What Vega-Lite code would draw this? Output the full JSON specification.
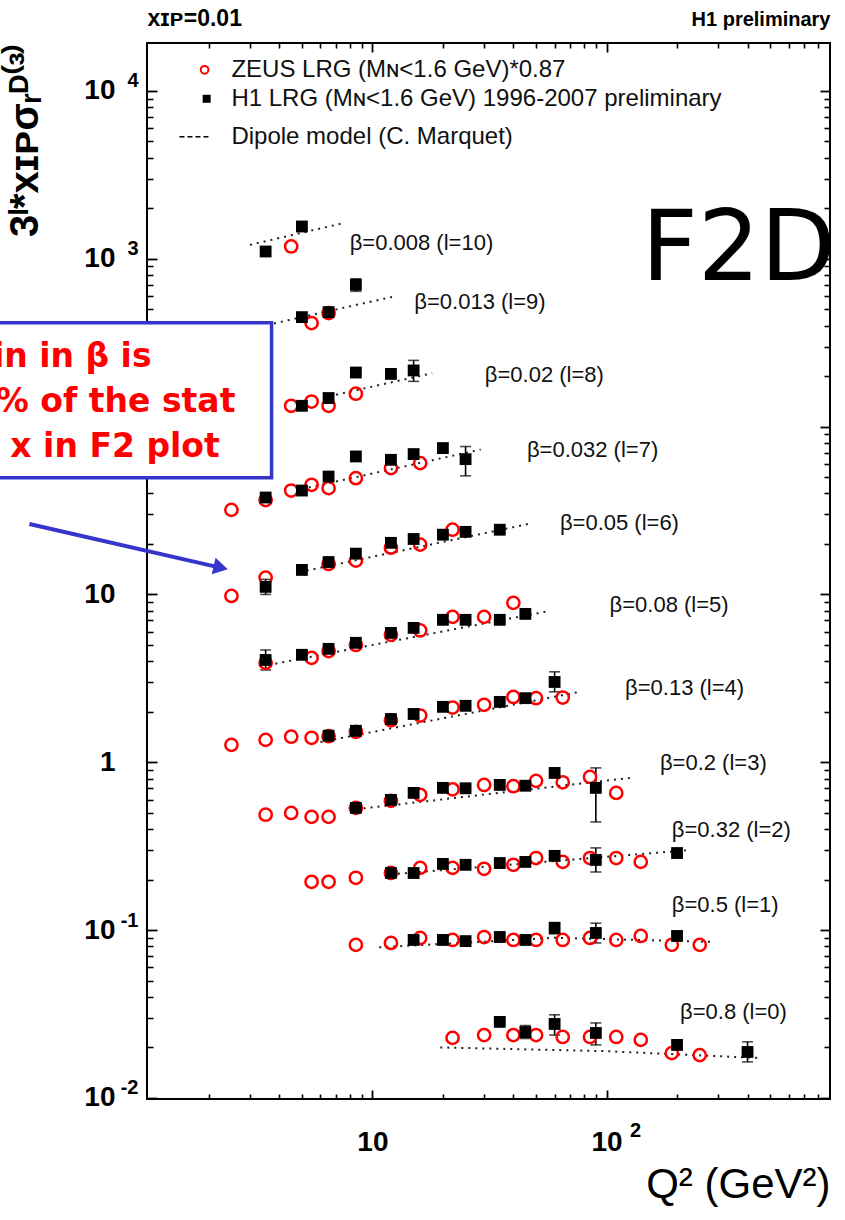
{
 "$schema": "https://vega.github.io/schema/vega-lite/v6.json",
 "width": 683,
 "height": 1056,
 "autosize": {"type": "none"},
 "padding": {"left": 147, "top": 43, "right": 15, "bottom": 121},
 "background": "white",
 "config": {
  "view": {"stroke": "#000", "strokeWidth": 2},
  "font": "Liberation Sans",
  "axis": {"grid": false, "domain": false, "tickColor": "#000", "labelColor": "#000", "titleColor": "#000", "labelFont": "Liberation Sans", "titleFont": "Liberation Sans", "labelFlush": false, "labelOverlap": false, "labelBound": false}
 },
 "datasets": {
  "zeus": [
   {"b":"0.008","q2":4.5,"v":1184},
   {"b":"0.013","q2":5.5,"v":414},{"b":"0.013","q2":6.5,"v":475},
   {"b":"0.02","q2":4.5,"v":133},{"b":"0.02","q2":5.5,"v":141},{"b":"0.02","q2":6.5,"v":133},{"b":"0.02","q2":8.5,"v":157},
   {"b":"0.032","q2":2.5,"v":31.9},{"b":"0.032","q2":3.5,"v":36.5},{"b":"0.032","q2":4.5,"v":41.6},{"b":"0.032","q2":5.5,"v":45.0},{"b":"0.032","q2":6.5,"v":43.0},{"b":"0.032","q2":8.5,"v":49.3},{"b":"0.032","q2":12,"v":56.6},{"b":"0.032","q2":16,"v":60.6},
   {"b":"0.05","q2":2.5,"v":9.8},{"b":"0.05","q2":3.5,"v":12.6},{"b":"0.05","q2":6.5,"v":15.2},{"b":"0.05","q2":8.5,"v":15.9},{"b":"0.05","q2":12,"v":19.0},{"b":"0.05","q2":16,"v":19.8},{"b":"0.05","q2":22,"v":24.3},
   {"b":"0.08","q2":3.5,"v":3.91},{"b":"0.08","q2":5.5,"v":4.19},{"b":"0.08","q2":6.5,"v":4.6},{"b":"0.08","q2":8.5,"v":5.0},{"b":"0.08","q2":12,"v":5.75},{"b":"0.08","q2":16,"v":6.1},{"b":"0.08","q2":22,"v":7.35},{"b":"0.08","q2":30,"v":7.35},{"b":"0.08","q2":40,"v":8.91},
   {"b":"0.13","q2":2.5,"v":1.27},{"b":"0.13","q2":3.5,"v":1.36},{"b":"0.13","q2":4.5,"v":1.42},{"b":"0.13","q2":5.5,"v":1.40},{"b":"0.13","q2":6.5,"v":1.43},{"b":"0.13","q2":8.5,"v":1.52},{"b":"0.13","q2":12,"v":1.78},{"b":"0.13","q2":16,"v":1.90},{"b":"0.13","q2":22,"v":2.12},{"b":"0.13","q2":30,"v":2.20},{"b":"0.13","q2":40,"v":2.45},{"b":"0.13","q2":50,"v":2.41},{"b":"0.13","q2":65,"v":2.43},
   {"b":"0.2","q2":3.5,"v":0.487},{"b":"0.2","q2":4.5,"v":0.499},{"b":"0.2","q2":5.5,"v":0.473},{"b":"0.2","q2":6.5,"v":0.473},{"b":"0.2","q2":8.5,"v":0.535},{"b":"0.2","q2":12,"v":0.59},{"b":"0.2","q2":16,"v":0.64},{"b":"0.2","q2":22,"v":0.69},{"b":"0.2","q2":30,"v":0.733},{"b":"0.2","q2":40,"v":0.72},{"b":"0.2","q2":50,"v":0.775},{"b":"0.2","q2":65,"v":0.76},{"b":"0.2","q2":85,"v":0.818},{"b":"0.2","q2":110,"v":0.657},
   {"b":"0.32","q2":5.5,"v":0.194},{"b":"0.32","q2":6.5,"v":0.194},{"b":"0.32","q2":8.5,"v":0.205},{"b":"0.32","q2":12,"v":0.219},{"b":"0.32","q2":16,"v":0.235},{"b":"0.32","q2":22,"v":0.235},{"b":"0.32","q2":30,"v":0.232},{"b":"0.32","q2":40,"v":0.245},{"b":"0.32","q2":50,"v":0.269},{"b":"0.32","q2":65,"v":0.255},{"b":"0.32","q2":85,"v":0.269},{"b":"0.32","q2":110,"v":0.269},{"b":"0.32","q2":140,"v":0.255},
   {"b":"0.5","q2":8.5,"v":0.0817},{"b":"0.5","q2":12,"v":0.0839},{"b":"0.5","q2":16,"v":0.0898},{"b":"0.5","q2":22,"v":0.0874},{"b":"0.5","q2":30,"v":0.091},{"b":"0.5","q2":40,"v":0.0874},{"b":"0.5","q2":50,"v":0.0874},{"b":"0.5","q2":65,"v":0.0874},{"b":"0.5","q2":85,"v":0.0898},{"b":"0.5","q2":110,"v":0.0874},{"b":"0.5","q2":140,"v":0.0923},{"b":"0.5","q2":190,"v":0.0817},{"b":"0.5","q2":250,"v":0.0817},
   {"b":"0.8","q2":22,"v":0.0228},{"b":"0.8","q2":30,"v":0.0237},{"b":"0.8","q2":40,"v":0.0237},{"b":"0.8","q2":50,"v":0.0237},{"b":"0.8","q2":65,"v":0.0231},{"b":"0.8","q2":85,"v":0.0231},{"b":"0.8","q2":110,"v":0.0231},{"b":"0.8","q2":140,"v":0.0222},{"b":"0.8","q2":190,"v":0.0185},{"b":"0.8","q2":250,"v":0.0180}
  ],
  "h1": [
   {"b":"0.008","q2":3.5,"v":1105},{"b":"0.008","q2":5,"v":1557},
   {"b":"0.013","q2":5,"v":449},{"b":"0.013","q2":6.5,"v":481},{"b":"0.013","q2":8.5,"v":700,"lo":640,"hi":760},
   {"b":"0.02","q2":5,"v":133},{"b":"0.02","q2":6.5,"v":148},{"b":"0.02","q2":8.5,"v":210},{"b":"0.02","q2":12,"v":206},{"b":"0.02","q2":15,"v":216,"lo":186,"hi":248},
   {"b":"0.032","q2":3.5,"v":37.8},{"b":"0.032","q2":5,"v":41.6},{"b":"0.032","q2":6.5,"v":50.4},{"b":"0.032","q2":8.5,"v":66.4},{"b":"0.032","q2":12,"v":63.4},{"b":"0.032","q2":15,"v":68.6},{"b":"0.032","q2":20,"v":74.5},{"b":"0.032","q2":25,"v":64.0,"lo":50.9,"hi":76.1},
   {"b":"0.05","q2":3.5,"v":11.1,"lo":10.0,"hi":12.3},{"b":"0.05","q2":5,"v":14.0},{"b":"0.05","q2":6.5,"v":15.6},{"b":"0.05","q2":8.5,"v":17.5},{"b":"0.05","q2":12,"v":20.3},{"b":"0.05","q2":15,"v":21.4},{"b":"0.05","q2":20,"v":22.7},{"b":"0.05","q2":25,"v":23.6},{"b":"0.05","q2":35,"v":24.3},
   {"b":"0.08","q2":3.5,"v":4.07,"lo":3.55,"hi":4.67},{"b":"0.08","q2":5,"v":4.37},{"b":"0.08","q2":6.5,"v":4.74},{"b":"0.08","q2":8.5,"v":5.15},{"b":"0.08","q2":12,"v":5.90},{"b":"0.08","q2":15,"v":6.32},{"b":"0.08","q2":20,"v":7.06},{"b":"0.08","q2":25,"v":7.06},{"b":"0.08","q2":35,"v":7.06},{"b":"0.08","q2":45,"v":7.66},
   {"b":"0.13","q2":6.5,"v":1.44},{"b":"0.13","q2":8.5,"v":1.54},{"b":"0.13","q2":12,"v":1.81},{"b":"0.13","q2":15,"v":1.94},{"b":"0.13","q2":20,"v":2.14},{"b":"0.13","q2":25,"v":2.17},{"b":"0.13","q2":35,"v":2.29},{"b":"0.13","q2":45,"v":2.41},{"b":"0.13","q2":60,"v":3.01,"lo":2.63,"hi":3.46},
   {"b":"0.2","q2":8.5,"v":0.535},{"b":"0.2","q2":12,"v":0.597},{"b":"0.2","q2":15,"v":0.657},{"b":"0.2","q2":20,"v":0.704},{"b":"0.2","q2":25,"v":0.70},{"b":"0.2","q2":35,"v":0.733},{"b":"0.2","q2":45,"v":0.725},{"b":"0.2","q2":60,"v":0.864},{"b":"0.2","q2":90,"v":0.704,"lo":0.441,"hi":0.926},
   {"b":"0.32","q2":12,"v":0.219},{"b":"0.32","q2":15,"v":0.219},{"b":"0.32","q2":20,"v":0.248},{"b":"0.32","q2":25,"v":0.245},{"b":"0.32","q2":35,"v":0.251},{"b":"0.32","q2":45,"v":0.255},{"b":"0.32","q2":60,"v":0.277},{"b":"0.32","q2":90,"v":0.262,"lo":0.222,"hi":0.309},{"b":"0.32","q2":200,"v":0.288},
   {"b":"0.5","q2":15,"v":0.0874},{"b":"0.5","q2":20,"v":0.0874},{"b":"0.5","q2":25,"v":0.086},{"b":"0.5","q2":35,"v":0.091},{"b":"0.5","q2":45,"v":0.0874},{"b":"0.5","q2":60,"v":0.103,"lo":0.095,"hi":0.111},{"b":"0.5","q2":90,"v":0.0962,"lo":0.0839,"hi":0.110},{"b":"0.5","q2":200,"v":0.0923},
   {"b":"0.8","q2":35,"v":0.0284},{"b":"0.8","q2":45,"v":0.0247,"lo":0.0226,"hi":0.027},{"b":"0.8","q2":60,"v":0.0276,"lo":0.0237,"hi":0.0313},{"b":"0.8","q2":90,"v":0.0244,"lo":0.0207,"hi":0.028},{"b":"0.8","q2":200,"v":0.0207},{"b":"0.8","q2":400,"v":0.0188,"lo":0.0164,"hi":0.0216}
  ],
  "model": [
   {"b":"0.008","q2":3.0,"v":1210},{"b":"0.008","q2":7.5,"v":1630},
   {"b":"0.013","q2":3.8,"v":412},{"b":"0.013","q2":12.3,"v":595},
   {"b":"0.02","q2":7.0,"v":155},{"b":"0.02","q2":18,"v":208},
   {"b":"0.032","q2":5,"v":42.5},{"b":"0.032","q2":29,"v":73},
   {"b":"0.05","q2":4.9,"v":13.6},{"b":"0.05","q2":47,"v":26.4},
   {"b":"0.08","q2":3.6,"v":3.8},{"b":"0.08","q2":55,"v":7.9},
   {"b":"0.13","q2":6,"v":1.32},{"b":"0.13","q2":77,"v":2.63},
   {"b":"0.2","q2":8,"v":0.52},{"b":"0.2","q2":126,"v":0.807},
   {"b":"0.32","q2":12,"v":0.215},{"b":"0.32","q2":227,"v":0.30},
   {"b":"0.5","q2":10.7,"v":0.079},{"b":"0.5","q2":60,"v":0.090},{"b":"0.5","q2":290,"v":0.085},
   {"b":"0.8","q2":19.5,"v":0.0200},{"b":"0.8","q2":100,"v":0.0190},{"b":"0.8","q2":450,"v":0.0173}
  ],
  "blabels": [
   {"t":"β=0.008 (l=10)","q2":8.0,"v":1245},
   {"t":"β=0.013 (l=9)","q2":15.1,"v":554},
   {"t":"β=0.02 (l=8)","q2":30.2,"v":204},
   {"t":"β=0.032 (l=7)","q2":45.7,"v":72.8},
   {"t":"β=0.05 (l=6)","q2":63.2,"v":26.7},
   {"t":"β=0.08 (l=5)","q2":103,"v":8.67},
   {"t":"β=0.13 (l=4)","q2":120,"v":2.77},
   {"t":"β=0.2 (l=3)","q2":169,"v":0.99},
   {"t":"β=0.32 (l=2)","q2":190,"v":0.395},
   {"t":"β=0.5 (l=1)","q2":190,"v":0.141},
   {"t":"β=0.8 (l=0)","q2":206,"v":0.0326}
  ],
  "legtext": [
   {"t":"ZEUS LRG (Mɴ<1.6 GeV)*0.87","q2":2.5,"v":13370},
   {"t":"H1 LRG (Mɴ<1.6 GeV) 1996-2007 preliminary","q2":2.5,"v":8980},
   {"t":"Dipole model (C. Marquet)","q2":2.5,"v":5335}
  ],
  "boxtext": [
   {"t":"Bin in β is","q2":1.14,"v":260.6},
   {"t":"30% of the stat","q2":2.60,"v":140.6},
   {"t":"of x in F2 plot","q2":2.23,"v":75.9}
  ]
 },
 "resolve": {"axis": {"x": "independent", "y": "independent"}},
 "layer": [
  {
   "data": {"name": "model"},
   "mark": {"type": "line", "color": "#222", "strokeWidth": 2, "strokeDash": [2, 5]},
   "encoding": {
    "x": {"field": "q2", "type": "quantitative", "scale": {"type": "log", "domain": [1.09, 900], "nice": false},
     "axis": {"orient": "bottom", "values": [10, 100], "ticks": true, "tickSize": -9, "tickWidth": 1.8, "labels": false, "title": null}},
    "y": {"field": "v", "type": "quantitative", "scale": {"type": "log", "domain": [0.00986, 19300], "nice": false},
     "axis": {"orient": "left", "values": [0.01, 0.1, 1, 10, 100, 1000, 10000], "ticks": true, "tickSize": -10, "tickWidth": 1.8, "labels": false, "title": null}},
    "detail": {"field": "b", "type": "nominal"}
   }
  },
  {
   "data": {"name": "h1"},
   "transform": [{"filter": "isValid(datum.lo)"}],
   "mark": {"type": "rule", "color": "#000", "strokeWidth": 1.6},
   "encoding": {
    "x": {"field": "q2", "type": "quantitative", "scale": {"type": "log", "domain": [1.09, 900], "nice": false},
     "axis": {"orient": "bottom", "values": [2,3,4,5,6,7,8,9,20,30,40,50,60,70,80,90,200,300,400,500,600,700,800], "ticks": true, "tickSize": -5, "tickWidth": 1.6, "labels": false, "title": null}},
    "y": {"field": "lo", "type": "quantitative", "scale": {"type": "log", "domain": [0.00986, 19300], "nice": false},
     "axis": {"orient": "left", "values": [0.02,0.03,0.04,0.05,0.06,0.07,0.08,0.09,0.2,0.3,0.4,0.5,0.6,0.7,0.8,0.9,2,3,4,5,6,7,8,9,20,30,40,50,60,70,80,90,200,300,400,500,600,700,800,900,2000,3000,4000,5000,6000,7000,8000,9000], "ticks": true, "tickSize": -6, "tickWidth": 1.6, "labels": false, "title": null}},
    "y2": {"field": "hi"}
   }
  },
  {
   "data": {"name": "h1"},
   "transform": [{"filter": "isValid(datum.lo)"}, {"fold": ["lo", "hi"], "as": ["end", "ev"]}],
   "mark": {"type": "tick", "orient": "horizontal", "color": "#000", "size": 11, "thickness": 1.6},
   "encoding": {
    "x": {"field": "q2", "type": "quantitative", "scale": {"type": "log", "domain": [1.09, 900], "nice": false},
     "axis": {"orient": "bottom", "values": [10, 100], "ticks": false, "labelExpr": "'10'", "labelFontSize": 28, "labelFontWeight": "bold", "labelBaseline": "middle", "labelAlign": "center", "labelPadding": 43,
      "title": "Q² (GeV²)", "titleFontSize": 42, "titleFontWeight": "normal", "titleAnchor": "end", "titlePadding": 8}},
    "y": {"field": "ev", "type": "quantitative", "scale": {"type": "log", "domain": [0.00986, 19300], "nice": false},
     "axis": {"orient": "left", "values": [0.01, 0.1, 1, 10, 1000, 10000], "ticks": false, "labelExpr": "datum.value == 1 ? '1' : '10'", "labelFontSize": 28, "labelFontWeight": "bold", "labelAlign": "right", "labelBaseline": "middle", "labelPadding": 32,
      "title": "3ˡ*xɪᴘσᵣᴰ⁽³⁾", "titleFontSize": 40, "titleFontWeight": "bold", "titleAnchor": "end", "titlePadding": 38}}
   }
  },
  {
   "data": {"name": "zeus"},
   "mark": {"type": "point", "shape": "circle", "filled": false, "stroke": "#ff0000", "strokeWidth": 2.5, "size": 150, "opacity": 1},
   "encoding": {
    "x": {"field": "q2", "type": "quantitative", "scale": {"type": "log", "domain": [1.09, 900], "nice": false},
     "axis": {"orient": "bottom", "values": [100], "ticks": false, "labelExpr": "'2'", "labelFontSize": 20, "labelFontWeight": "bold", "labelAlign": "left", "labelBaseline": "middle", "labelOffset": 23, "labelPadding": 31, "title": null}},
    "y": {"field": "v", "type": "quantitative", "scale": {"type": "log", "domain": [0.00986, 19300], "nice": false},
     "axis": {"orient": "left", "values": [0.01, 0.1, 1000, 10000], "ticks": false, "labelExpr": "datum.value > 5000 ? '4' : datum.value > 500 ? '3' : datum.value > 50 ? '2' : datum.value > 0.05 ? '-1' : '-2'", "labelFontSize": 20, "labelFontWeight": "bold", "labelAlign": "right", "labelBaseline": "middle", "labelPadding": 9, "labelOffset": -10, "title": null}}
   }
  },
  {
   "data": {"name": "h1"},
   "mark": {"type": "point", "shape": "square", "filled": true, "color": "#000", "size": 140, "opacity": 1},
   "encoding": {
    "x": {"field": "q2", "type": "quantitative", "scale": {"type": "log", "domain": [1.09, 900], "nice": false},
     "axis": {"orient": "top", "values": [10, 100], "ticks": true, "tickSize": -9, "tickWidth": 1.8, "labels": false,
      "title": "H1 preliminary", "titleFontSize": 20, "titleFontWeight": "bold", "titleAnchor": "end", "titlePadding": 13}},
    "y": {"field": "v", "type": "quantitative", "scale": {"type": "log", "domain": [0.00986, 19300], "nice": false},
     "axis": {"orient": "right", "values": [0.01, 0.1, 1, 10, 100, 1000, 10000], "ticks": true, "tickSize": -10, "tickWidth": 1.8, "labels": false, "title": null}}
   }
  },
  {
   "data": {"name": "blabels"},
   "mark": {"type": "text", "align": "left", "baseline": "middle", "fontSize": 22, "color": "#111"},
   "encoding": {
    "x": {"field": "q2", "type": "quantitative", "scale": {"type": "log", "domain": [1.09, 900], "nice": false},
     "axis": {"orient": "top", "values": [2,3,4,5,6,7,8,9,20,30,40,50,60,70,80,90,200,300,400,500,600,700,800], "ticks": true, "tickSize": -5, "tickWidth": 1.6, "labels": false,
      "title": "xɪᴘ=0.01", "titleFontSize": 23, "titleFontWeight": "bold", "titleAnchor": "start", "titlePadding": 12}},
    "y": {"field": "v", "type": "quantitative", "scale": {"type": "log", "domain": [0.00986, 19300], "nice": false},
     "axis": {"orient": "right", "values": [0.02,0.03,0.04,0.05,0.06,0.07,0.08,0.09,0.2,0.3,0.4,0.5,0.6,0.7,0.8,0.9,2,3,4,5,6,7,8,9,20,30,40,50,60,70,80,90,200,300,400,500,600,700,800,900,2000,3000,4000,5000,6000,7000,8000,9000], "ticks": true, "tickSize": -6, "tickWidth": 1.6, "labels": false, "title": null}},
    "text": {"field": "t"}
   }
  },
  {
   "data": {"values": [{"q2": 1.92, "v": 13370}]},
   "mark": {"type": "point", "shape": "circle", "filled": false, "stroke": "#ff0000", "strokeWidth": 2, "size": 60, "opacity": 1},
   "encoding": {
    "x": {"field": "q2", "type": "quantitative", "axis": null},
    "y": {"field": "v", "type": "quantitative", "axis": null}
   }
  },
  {
   "data": {"values": [{"q2": 1.96, "v": 8980}]},
   "mark": {"type": "point", "shape": "square", "filled": true, "color": "#000", "size": 64, "opacity": 1},
   "encoding": {
    "x": {"field": "q2", "type": "quantitative", "axis": null},
    "y": {"field": "v", "type": "quantitative", "axis": null}
   }
  },
  {
   "data": {"values": [{"q2": 1.5, "v": 5335}, {"q2": 2.02, "v": 5335}]},
   "mark": {"type": "line", "color": "#000", "strokeWidth": 1.5, "strokeDash": [5, 3]},
   "encoding": {
    "x": {"field": "q2", "type": "quantitative", "axis": null},
    "y": {"field": "v", "type": "quantitative", "axis": null}
   }
  },
  {
   "data": {"name": "legtext"},
   "mark": {"type": "text", "align": "left", "baseline": "middle", "fontSize": 24, "color": "#111"},
   "encoding": {
    "x": {"field": "q2", "type": "quantitative", "axis": null},
    "y": {"field": "v", "type": "quantitative", "axis": null},
    "text": {"field": "t"}
   }
  },
  {
   "data": {"values": [{"q2": 0.2, "q2b": 3.71, "v": 415.6, "vb": 49.5}]},
   "mark": {"type": "rect", "fill": "#ffffff", "stroke": "#3535cc", "strokeWidth": 3.5},
   "encoding": {
    "x": {"field": "q2", "type": "quantitative", "axis": null},
    "x2": {"field": "q2b"},
    "y": {"field": "v", "type": "quantitative", "axis": null},
    "y2": {"field": "vb"}
   }
  },
  {
   "data": {"name": "boxtext"},
   "mark": {"type": "text", "align": "right", "baseline": "middle", "fontSize": 33, "font": "DejaVu Sans", "fontWeight": "bold", "color": "#ff0000"},
   "encoding": {
    "x": {"field": "q2", "type": "quantitative", "axis": null},
    "y": {"field": "v", "type": "quantitative", "axis": null},
    "text": {"field": "t"}
   }
  },
  {
   "data": {"values": [{"q2": 0.343, "v": 26.3, "q2b": 2.12, "vb": 14.7}]},
   "mark": {"type": "rule", "color": "#3535cc", "strokeWidth": 4},
   "encoding": {
    "x": {"field": "q2", "type": "quantitative", "axis": null},
    "x2": {"field": "q2b"},
    "y": {"field": "v", "type": "quantitative", "axis": null},
    "y2": {"field": "vb"}
   }
  },
  {
   "data": {"values": [{"q2": 2.25, "v": 14.45}]},
   "mark": {"type": "point", "shape": "triangle-right", "filled": true, "color": "#3535cc", "size": 280, "angle": 13, "opacity": 1},
   "encoding": {
    "x": {"field": "q2", "type": "quantitative", "axis": null},
    "y": {"field": "v", "type": "quantitative", "axis": null}
   }
  },
  {
   "data": {"values": [{"t": "F2D", "q2": 141, "v": 750}]},
   "mark": {"type": "text", "align": "left", "baseline": "alphabetic", "fontSize": 98, "font": "DejaVu Sans", "color": "#000"},
   "encoding": {
    "x": {"field": "q2", "type": "quantitative", "axis": null},
    "y": {"field": "v", "type": "quantitative", "axis": null},
    "text": {"field": "t"}
   }
  }
 ]
}
